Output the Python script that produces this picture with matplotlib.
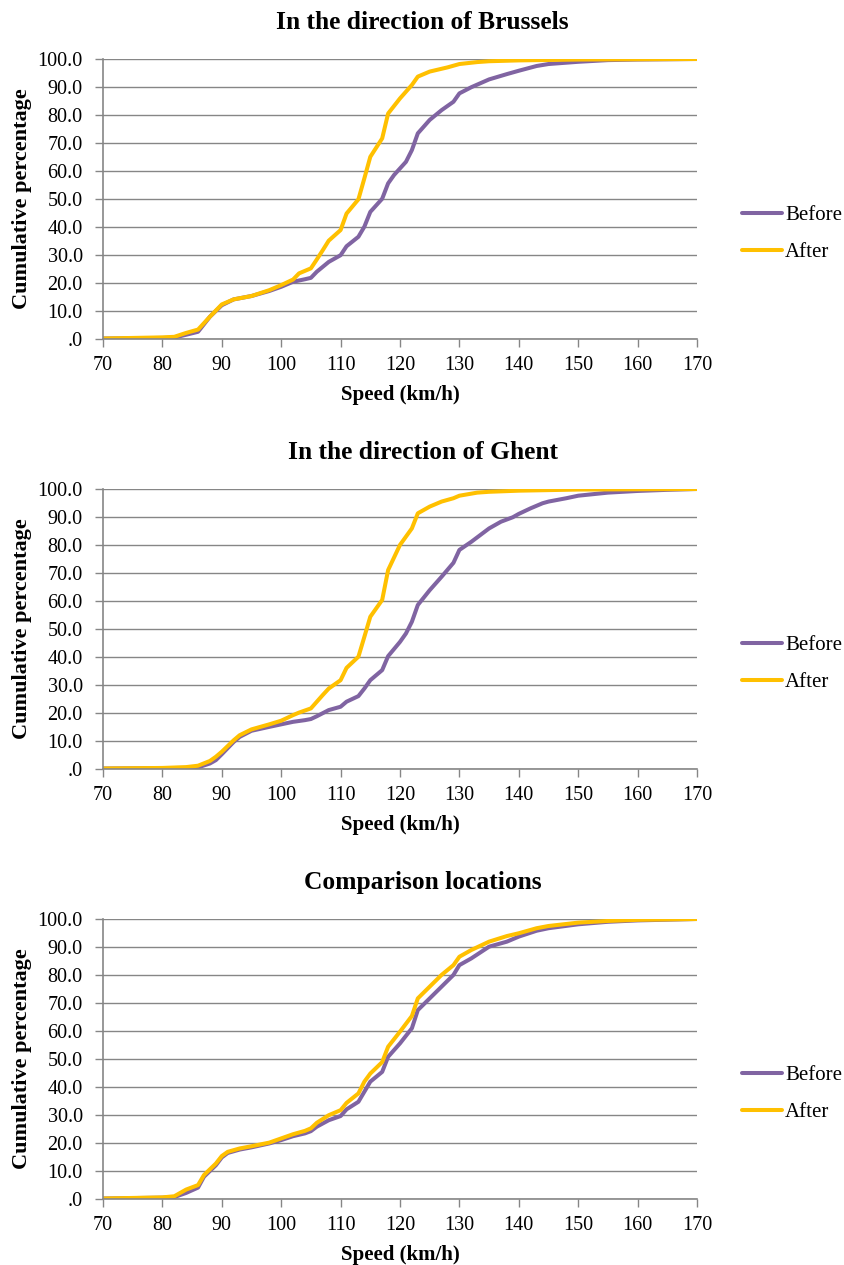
import matplotlib
matplotlib.use("Agg")
import matplotlib.pyplot as plt

plt.rcParams['font.family'] = ['Liberation Serif', 'DejaVu Serif']

# ---- Data ----
titles = ["In the direction of Brussels", "In the direction of Ghent", "Comparison locations"]
series_names = ["Before", "After"]

# Panel 1: Brussels
bru_before_x = [70, 80, 82, 86, 88, 90, 92, 95, 98, 100, 102, 104, 105, 106, 108, 110, 111, 113, 114, 115,
                117, 118, 119, 121, 122, 123, 125, 127, 129, 130, 132, 135, 138, 140, 143, 145, 150, 155, 160, 170]
bru_before_y = [0.0, 0.2, 0.3, 2.4, 7.8, 11.9, 14.0, 15.2, 17.0, 18.5, 20.3, 21.2, 21.7, 23.9, 27.4, 29.8, 33.0, 36.4, 40.0, 45.3,
                50.0, 55.5, 58.5, 63.2, 67.4, 73.4, 78.2, 81.7, 84.7, 87.7, 89.9, 92.7, 94.6, 95.8, 97.5, 98.2, 99.0, 99.6, 99.8, 100.0]
bru_after_x = [70, 80, 82, 84, 86, 88, 90, 92, 95, 98, 100, 102, 103, 105, 106, 107, 108, 110, 111, 113, 114, 115,
               117, 118, 120, 122, 123, 125, 128, 130, 133, 135, 140, 150, 170]
bru_after_y = [0.0, 0.4, 0.6, 2.0, 3.2, 7.8, 12.2, 14.0, 15.2, 17.3, 19.1, 21.1, 23.3, 25.1, 28.3, 31.6, 35.0, 38.8, 44.7, 49.8, 57.3, 65.0,
               71.6, 80.5, 85.9, 90.7, 93.7, 95.5, 97.0, 98.2, 98.9, 99.2, 99.5, 99.8, 100.0]

# Panel 2: Ghent
ghe_before_x = [70, 84, 86, 88, 89, 90, 92, 93, 95, 98, 100, 102, 104, 105, 106, 108, 110, 111, 113, 114, 115,
                117, 118, 120, 121, 122, 123, 125, 127, 129, 130, 132, 135, 137, 139, 140, 142, 144, 145, 148, 150, 155, 160, 165, 170]
ghe_before_y = [0.0, 0.2, 0.4, 1.8, 3.0, 5.1, 9.5, 11.3, 13.5, 14.9, 15.8, 16.7, 17.3, 17.7, 18.7, 20.9, 22.1, 23.9, 25.9, 28.6, 31.6,
                35.2, 40.2, 45.3, 48.3, 52.5, 58.5, 63.8, 68.6, 73.6, 78.2, 81.1, 85.9, 88.3, 89.9, 91.1, 93.1, 94.9, 95.5, 96.7, 97.6, 98.7, 99.3, 99.7, 100.0]
ghe_after_x = [70, 80, 84, 86, 88, 89, 90, 92, 93, 95, 98, 100, 102, 103, 105, 106, 107, 108, 110, 111, 113, 114, 115,
               117, 118, 120, 122, 123, 125, 127, 129, 130, 133, 135, 140, 150, 170]
ghe_after_y = [0.0, 0.2, 0.5, 1.0, 2.7, 4.2, 6.0, 10.1, 11.9, 14.0, 15.8, 17.1, 19.1, 20.0, 21.5, 23.9, 26.3, 28.6, 31.6, 36.0, 40.0, 47.1, 54.3,
               60.3, 71.0, 80.0, 85.9, 91.3, 93.7, 95.5, 96.7, 97.6, 98.7, 99.0, 99.4, 99.8, 100.0]

# Panel 3: Comparison locations
cmp_before_x = [70, 80, 82, 84, 86, 87, 89, 90, 91, 93, 95, 98, 100, 102, 104, 105, 106, 108, 110, 111, 113, 114, 115,
                117, 118, 120, 122, 123, 125, 127, 129, 130, 132, 135, 138, 140, 143, 145, 150, 155, 160, 170]
cmp_before_y = [0.0, 0.3, 0.5, 2.0, 3.9, 7.8, 11.9, 14.7, 16.3, 17.5, 18.3, 19.7, 20.9, 22.3, 23.3, 24.1, 25.7, 28.0, 29.5, 31.9, 34.6, 38.2, 41.8,
                45.3, 50.7, 55.5, 60.9, 67.4, 71.6, 75.8, 80.0, 83.5, 85.9, 90.1, 91.9, 93.7, 95.8, 96.7, 98.1, 99.0, 99.5, 100.0]
cmp_after_x = [70, 80, 82, 84, 86, 87, 89, 90, 91, 93, 95, 98, 100, 102, 104, 105, 106, 108, 110, 111, 113, 114, 115,
               117, 118, 120, 122, 123, 125, 127, 129, 130, 132, 135, 138, 140, 143, 145, 150, 155, 160, 170]
cmp_after_y = [0.0, 0.4, 0.8, 3.2, 4.8, 8.4, 12.5, 15.2, 16.7, 17.9, 18.7, 20.0, 21.5, 23.0, 24.2, 25.1, 27.1, 29.8, 31.6, 34.2, 37.6, 41.8, 44.7,
               48.8, 54.3, 59.7, 65.3, 71.6, 75.8, 80.0, 83.5, 86.5, 88.9, 91.9, 93.9, 94.9, 96.7, 97.5, 98.7, 99.3, 99.7, 100.0]

x_ticks = [70, 80, 90, 100, 110, 120, 130, 140, 150, 160, 170]
y_ticks = [0, 10, 20, 30, 40, 50, 60, 70, 80, 90, 100]
y_tick_labels = [".0", "10.0", "20.0", "30.0", "40.0", "50.0", "60.0", "70.0", "80.0", "90.0", "100.0"]
x_label = "Speed (km/h)"
y_label = "Cumulative percentage"

panels = [
    (bru_before_x, bru_before_y, bru_after_x, bru_after_y),
    (ghe_before_x, ghe_before_y, ghe_after_x, ghe_after_y),
    (cmp_before_x, cmp_before_y, cmp_after_x, cmp_after_y),
]

# ---- Style ----
W, H = 844, 1265
PURPLE = "#8064A2"
GOLD = "#FFC000"
GRAY = "#868686"

fig = plt.figure(figsize=(W / 100, H / 100), dpi=100)
fig.patch.set_facecolor("white")

left_px, right_px = 103, 697
tops_px = [59, 489, 919]
plot_h_px = 279.5
legend_centers_px = [234, 664, 1094]
title_center_px = 422.5

for i, (bx, by, ax_x, ay) in enumerate(panels):
    top = tops_px[i]
    ax = fig.add_axes([left_px / W, 1 - (top + plot_h_px) / H,
                       (right_px - left_px) / W, plot_h_px / H])
    ax.plot(bx, by, color=PURPLE, lw=2.9, label=series_names[0], solid_joinstyle="round", solid_capstyle="round")
    ax.plot(ax_x, ay, color=GOLD, lw=2.9, label=series_names[1], solid_joinstyle="round", solid_capstyle="round")
    ax.set_xlim(70, 170)
    ax.set_ylim(0, 100)
    ax.set_xticks(x_ticks)
    ax.set_yticks(y_ticks)
    ax.set_yticklabels(y_tick_labels)
    ax.yaxis.grid(True, color=GRAY, lw=1.0)
    ax.set_axisbelow(True)
    for s in ["top", "right"]:
        ax.spines[s].set_visible(False)
    for s in ["left", "bottom"]:
        ax.spines[s].set_color(GRAY)
        ax.spines[s].set_linewidth(1.2)
    ax.tick_params(axis="both", colors=GRAY, labelcolor="black", labelsize=14.5,
                   length=6, width=1.0, direction="out")
    ax.tick_params(axis="x", pad=6.5)
    ax.tick_params(axis="y", pad=8.5)
    ax.set_title(titles[i], fontsize=18.4, fontweight="bold", pad=21.5,
                 x=(title_center_px - left_px) / (right_px - left_px))
    ax.set_xlabel(x_label, fontsize=15, fontweight="bold")
    ax.xaxis.set_label_coords(0.5, -0.166)
    ax.set_ylabel(y_label, fontsize=16, fontweight="bold")
    ax.yaxis.set_label_coords(-0.12, 0.5)
    ax.legend(loc="center left", bbox_to_anchor=(742 / W, 1 - legend_centers_px[i] / H),
              bbox_transform=fig.transFigure, frameon=False, fontsize=15,
              handlelength=1.92, handletextpad=0.15, labelspacing=0.84,
              borderpad=0, borderaxespad=0)

fig.savefig("out.png", dpi=100)
